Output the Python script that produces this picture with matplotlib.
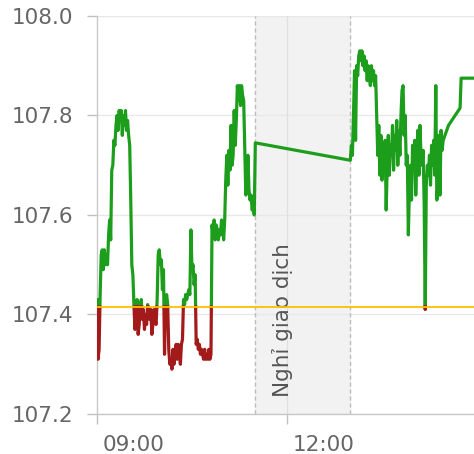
import numpy as np
import matplotlib.pyplot as plt
import matplotlib.transforms as mtransforms

# minutes after 09:00 and traded price
minutes = [0, 0, 1, 1, 2, 3, 4, 5, 6, 7, 8, 9, 10, 11, 12, 13, 14, 15, 16, 17,
           18, 19, 20, 21, 22, 23, 24, 25, 26, 27, 28, 29, 30, 31, 32, 33, 34, 35, 36, 37,
           38, 39, 40, 41, 42, 43, 44, 45, 46, 47, 48, 49, 50, 51, 52, 53, 54, 55, 56, 57,
           58, 59, 60, 61, 62, 63, 64, 65, 66, 67, 68, 69, 70, 71, 72, 73, 74, 75, 76, 77,
           78, 79, 80, 81, 82, 83, 84, 85, 86, 87, 88, 89, 90, 91, 92, 93, 94, 95, 96, 97,
           98, 99, 100, 101, 102, 103, 104, 105, 106, 107, 108, 109, 110, 111, 112, 113, 114, 115, 116, 117,
           118, 119, 120, 121, 122, 123, 124, 125, 126, 127, 128, 129, 130, 131, 132, 133, 134, 135, 136, 137,
           138, 139, 140, 141, 142, 143, 144, 145, 146, 147, 148, 149, 150,
           240, 241, 242, 243, 244, 245, 246, 247, 248, 249, 250, 251, 252, 253, 254, 255, 256, 257, 258, 259,
           260, 261, 262, 263, 264, 265, 266, 267, 268, 269, 270, 271, 272, 273, 274, 275, 276, 277, 278, 279,
           280, 281, 282, 283, 284, 285, 286, 287, 288, 289, 290, 291, 292, 293, 294, 295, 296, 297, 298, 299,
           300, 301, 302, 303, 304, 305, 306, 307, 308, 309, 310, 311, 312, 313, 314, 315, 316, 317, 318, 319,
           320, 321, 322, 323, 324, 325, 326, 327, 328, 333, 344, 345, 358]
prices = [107.43, 107.38, 107.36, 107.31, 107.33, 107.44, 107.52, 107.53, 107.49, 107.53,
          107.50, 107.52, 107.50, 107.56, 107.59, 107.55, 107.69, 107.70, 107.75, 107.74,
          107.78, 107.80, 107.77, 107.81, 107.79, 107.81, 107.76, 107.80, 107.78, 107.81,
          107.77, 107.79, 107.76, 107.74, 107.63, 107.50, 107.48, 107.42, 107.37, 107.40,
          107.43, 107.36, 107.38, 107.42, 107.43, 107.39, 107.41, 107.37, 107.40, 107.38,
          107.42, 107.40, 107.39, 107.41, 107.36, 107.38, 107.41, 107.39, 107.38, 107.43,
          107.52, 107.53, 107.50, 107.51, 107.45, 107.49, 107.32, 107.43, 107.44, 107.42,
          107.33, 107.30, 107.31, 107.29, 107.33, 107.30, 107.32, 107.34, 107.31, 107.34,
          107.33, 107.30, 107.34, 107.35, 107.43, 107.42, 107.44, 107.43, 107.44, 107.45,
          107.44, 107.57, 107.49, 107.50, 107.46, 107.48, 107.34, 107.35, 107.33, 107.34,
          107.32, 107.33, 107.32, 107.31, 107.33, 107.31, 107.32, 107.31, 107.33, 107.31,
          107.32, 107.58, 107.56, 107.59, 107.55, 107.58, 107.57, 107.55, 107.57, 107.56,
          107.59, 107.58, 107.55, 107.59, 107.67, 107.72, 107.66, 107.73, 107.69, 107.78,
          107.70, 107.72, 107.81, 107.74, 107.79, 107.86, 107.83, 107.86, 107.82, 107.86,
          107.84, 107.83, 107.73, 107.64, 107.66, 107.72, 107.65, 107.63, 107.64, 107.61,
          107.62, 107.60, 107.745,
          107.71, 107.74, 107.72, 107.80, 107.89, 107.75, 107.90, 107.88, 107.92, 107.93,
          107.91, 107.93, 107.90, 107.92, 107.89, 107.91, 107.87, 107.90, 107.88, 107.86,
          107.90, 107.87, 107.89, 107.86, 107.88, 107.80, 107.72, 107.78, 107.68, 107.76,
          107.67, 107.74, 107.70, 107.75, 107.61, 107.70, 107.76, 107.68, 107.74, 107.72,
          107.78, 107.69, 107.76, 107.73, 107.79, 107.70, 107.77, 107.72, 107.80, 107.85,
          107.86, 107.76, 107.80, 107.70, 107.72, 107.56, 107.65, 107.70, 107.63, 107.74,
          107.69, 107.75, 107.64, 107.71, 107.77, 107.68, 107.78, 107.72, 107.70, 107.73,
          107.62, 107.41, 107.66, 107.70, 107.68, 107.72, 107.66, 107.74, 107.70, 107.75,
          107.68, 107.86, 107.63, 107.66, 107.76, 107.64, 107.77, 107.73, 107.75, 107.78,
          107.815, 107.875, 107.875]

ref_price = 107.415
break_start, break_end = 150, 240
yticks = [107.2, 107.4, 107.6, 107.8, 108.0]
xticks = [0, 180]
xtick_labels = ["09:00", "12:00"]
break_label = "Nghỉ giao dịch"

# split the line where it crosses the reference price
xs, ys = [minutes[0]], [prices[0]]
for i in range(1, len(minutes)):
    x0, y0, x1, y1 = minutes[i - 1], prices[i - 1], minutes[i], prices[i]
    if (y0 - ref_price) * (y1 - ref_price) < 0:
        t = (ref_price - y0) / (y1 - y0)
        xs.append(x0 + t * (x1 - x0))
        ys.append(ref_price)
    xs.append(x1)
    ys.append(y1)
xs = np.array(xs)
ys = np.array(ys)
y_up = np.where(ys >= ref_price, ys, np.nan)
y_down = np.where(ys <= ref_price, ys, np.nan)

fig = plt.figure(figsize=(4.74, 4.54), dpi=100)
ax = fig.add_axes([0.2046, 0.0881, 0.7954, 0.8767])

xmax = 357.2
ax.set_xlim(0, xmax)
ax.set_ylim(107.2, 108.0)

# lunch break band
ax.axvspan(break_start, break_end, color="#f2f2f2", zorder=0)
for xb in (break_start, break_end):
    ax.axvline(xb, color="#bdbdbd", lw=1, ls=(0, (3, 2)), zorder=1)
ax.text(175.5, 107.234, break_label, rotation=90, ha="center", va="bottom",
        fontsize=15.5, color="#555555", zorder=2)

# grid
for yv in yticks:
    ax.axhline(yv, color="#e8e8e8", lw=1, zorder=0.5)
ax.axvline(180, color="#e0e0e0", lw=1, zorder=0.5)

# price line: green above reference, red below
ax.plot(xs, y_up, color="#1c9e1c", lw=2.3, zorder=3)
ax.plot(xs, y_down, color="#a31a1a", lw=2.3, zorder=3)

ax.axhline(ref_price, color="#ffc000", lw=1.3, zorder=4)

ax.set_yticks(yticks)
ax.set_yticklabels([f"{v:.1f}" for v in yticks])
ax.set_xticks(xticks)
ax.set_xticklabels(xtick_labels)

for s in ("top", "right"):
    ax.spines[s].set_visible(False)
for s in ("left", "bottom"):
    ax.spines[s].set_color("#c8c8c8")
    ax.spines[s].set_linewidth(1)
ax.tick_params(axis="both", colors="#c0c0c0", labelcolor="#666666",
               labelsize=15.5, length=7, width=1)
ax.tick_params(axis="y", pad=10)
ax.tick_params(axis="x", pad=8)

offset = mtransforms.ScaledTranslation(6 / 100, 0, fig.dpi_scale_trans)
for lab in ax.get_xticklabels():
    lab.set_horizontalalignment("left")
    lab.set_transform(lab.get_transform() + offset)

fig.savefig("out.png", dpi=100)
